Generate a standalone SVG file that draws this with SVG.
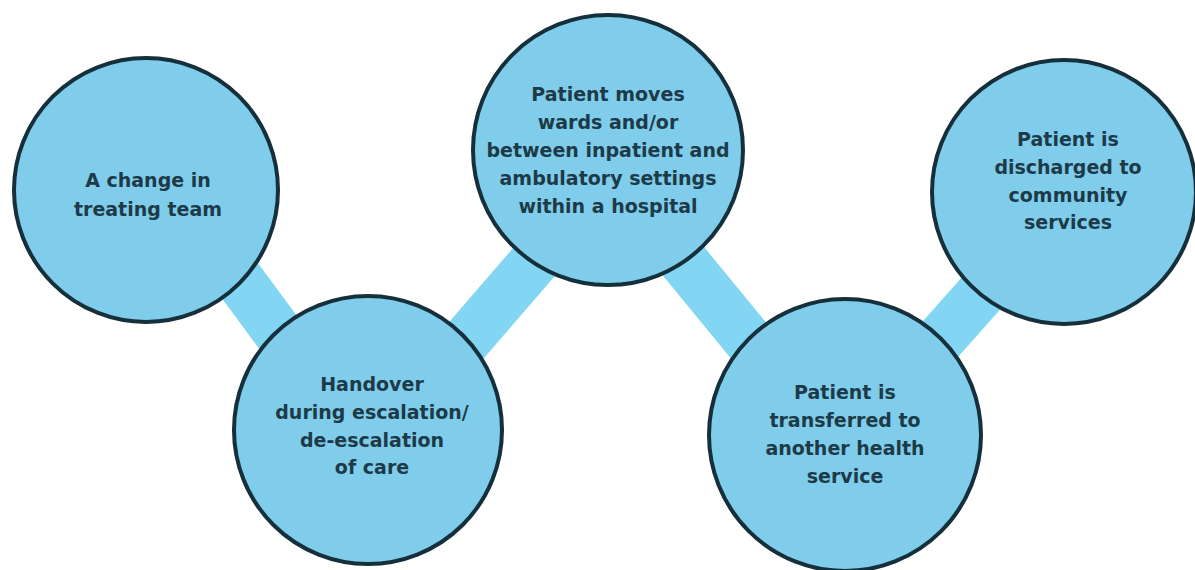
<svg xmlns="http://www.w3.org/2000/svg" width="1195" height="570" viewBox="0 0 1195 570">
<style>
.bar{stroke:#82d5f3;stroke-width:50;fill:none;stroke-linecap:butt}
.node{fill:#7fcdeb;stroke:#15303b;stroke-width:4}
.t{font-family:"DejaVu Sans",sans-serif;font-weight:bold;font-size:19px;fill:#1d3a48;text-anchor:middle}
</style>
<rect width="1195" height="570" fill="#ffffff"/>
<g id="connectors">
<line class="bar" x1="150" y1="159" x2="368" y2="454"/>
<line class="bar" x1="368" y1="454" x2="611" y2="173"/>
<line class="bar" x1="611" y1="173" x2="840" y2="452"/>
<line class="bar" x1="840" y1="452" x2="1064" y2="200"/>
</g>
<g id="n1">
<circle class="node" cx="146" cy="190" r="132"/>
<text class="t" x="148" y="187">A change in</text>
<text class="t" x="148" y="216">treating team</text>
</g>
<g id="n2">
<circle class="node" cx="368" cy="430" r="134"/>
<text class="t" x="372" y="391">Handover</text>
<text class="t" x="372" y="419">during escalation/</text>
<text class="t" x="372" y="447">de-escalation</text>
<text class="t" x="372" y="474">of care</text>
</g>
<g id="n3">
<circle class="node" cx="608" cy="150" r="135"/>
<text class="t" x="608" y="101">Patient moves</text>
<text class="t" x="608" y="129">wards and/or</text>
<text class="t" x="608" y="157">between inpatient and</text>
<text class="t" x="608" y="185">ambulatory settings</text>
<text class="t" x="608" y="213">within a hospital</text>
</g>
<g id="n4">
<circle class="node" cx="845" cy="435" r="136"/>
<text class="t" x="845" y="399">Patient is</text>
<text class="t" x="845" y="427">transferred to</text>
<text class="t" x="845" y="455">another health</text>
<text class="t" x="845" y="483">service</text>
</g>
<g id="n5">
<circle class="node" cx="1064" cy="192" r="132"/>
<text class="t" x="1068" y="146">Patient is</text>
<text class="t" x="1068" y="174">discharged to</text>
<text class="t" x="1068" y="202">community</text>
<text class="t" x="1068" y="229">services</text>
</g>
</svg>
